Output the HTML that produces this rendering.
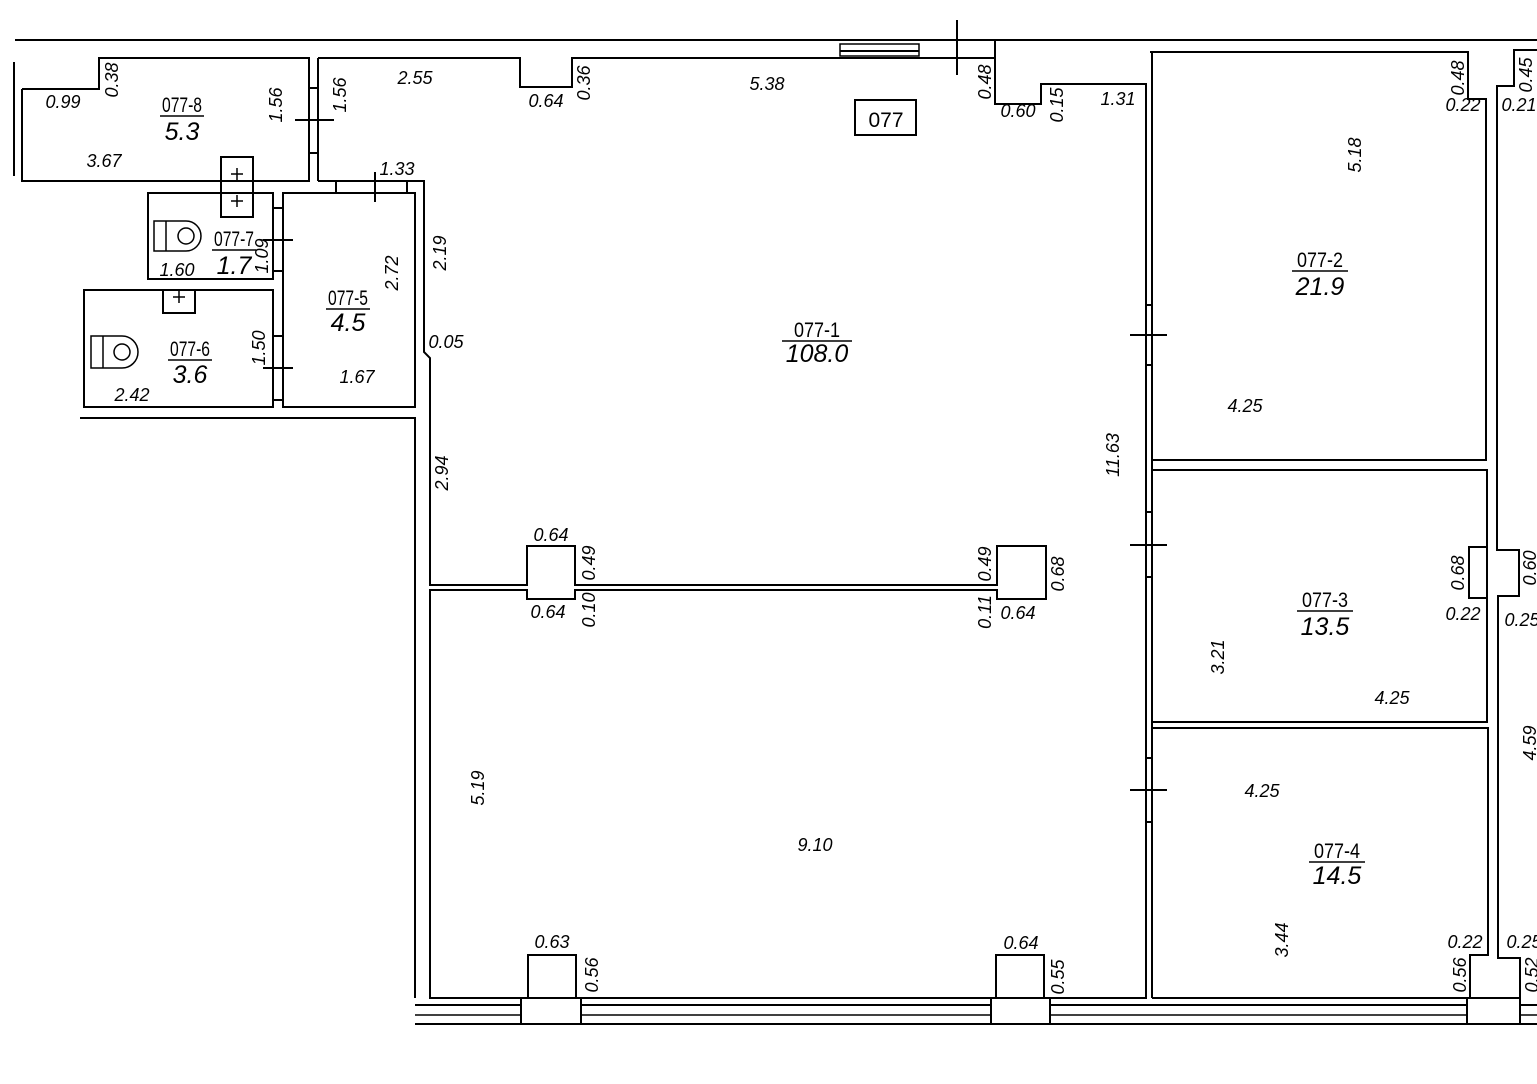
<!DOCTYPE html>
<html><head><meta charset="utf-8">
<style>
html,body{margin:0;padding:0;background:#fff;}
svg{display:block;}
text{font-family:"Liberation Sans",Arial,sans-serif;fill:#000;}
.d{font-size:18px;font-style:italic;}
.id{font-size:21px;}
.ar{font-size:25px;font-style:italic;}
</style></head><body>
<svg width="1537" height="1084" viewBox="0 0 1537 1084" xmlns="http://www.w3.org/2000/svg">
<g fill="none" stroke="#000" stroke-width="2">
<line x1="15" y1="40" x2="1537" y2="40"/>
<line x1="840" y1="58" x2="995" y2="58"/>
<rect x="840" y="44" width="79" height="12" stroke-width="1.5"/>
<line x1="840" y1="51" x2="919" y2="51"/>
<line x1="957" y1="20" x2="957" y2="75"/>
<line x1="14" y1="62" x2="14" y2="176"/>
<polyline points="22,89 99,89 99,58 309,58 309,181 22,181 22,89"/>
<line x1="309" y1="88" x2="318" y2="88"/><line x1="309" y1="153" x2="318" y2="153"/>
<line x1="295" y1="120" x2="334" y2="120"/>
<polyline points="318,58 520,58 520,87 572,87 572,58 840,58"/>
<line x1="318" y1="58" x2="318" y2="181"/>
<polyline points="318,181 424,181 424,352 430,358 430,585 527,585 527,546 575,546 575,585 997,585 997,546 1046,546 1046,599 997,599 997,590 575,590 575,599 527,599 527,590 430,590 430,998 528,998 528,955 576,955 576,998 996,998 996,955 1044,955 1044,998 1146,998 1146,84 1041,84 1041,104 995,104 995,40"/>
<line x1="336" y1="181" x2="336" y2="193"/><line x1="407" y1="181" x2="407" y2="193"/>
<line x1="375" y1="172" x2="375" y2="202"/>
<rect x="148" y="193" width="125" height="86"/>
<rect x="221" y="157" width="32" height="60"/>
<line x1="221" y1="181" x2="253" y2="181"/>
<g stroke-width="1.5">
<line x1="231" y1="174" x2="243" y2="174"/><line x1="237" y1="168" x2="237" y2="180"/>
<line x1="231" y1="201" x2="243" y2="201"/><line x1="237" y1="195" x2="237" y2="207"/>
<line x1="173" y1="297" x2="185" y2="297"/><line x1="179" y1="291" x2="179" y2="303"/>
</g>
<line x1="273" y1="208" x2="283" y2="208"/><line x1="273" y1="271" x2="283" y2="271"/>
<line x1="263" y1="240" x2="293" y2="240"/>
<rect x="283" y="193" width="132" height="214"/>
<rect x="84" y="290" width="189" height="117"/>
<rect x="163" y="290" width="32" height="23"/>
<line x1="273" y1="336" x2="283" y2="336"/><line x1="273" y1="400" x2="283" y2="400"/>
<line x1="263" y1="368" x2="293" y2="368"/>
<path d="M154,221 H186 A15,15 0 0 1 186,251 H154 Z M166,221 V251" stroke-width="1.5"/>
<circle cx="186" cy="236" r="8" stroke-width="1.5"/>
<path d="M91,336 H122 A16,16 0 0 1 122,368 H91 Z M103,336 V368" stroke-width="1.5"/>
<circle cx="122" cy="352" r="8" stroke-width="1.5"/>
<polyline points="80,418 415,418 415,998"/>
<line x1="415" y1="1005" x2="1537" y2="1005"/>
<line x1="415" y1="1015" x2="1537" y2="1015" stroke-width="1.5"/>
<line x1="415" y1="1024" x2="1537" y2="1024"/>
<rect x="521" y="998" width="60" height="26" fill="#fff"/>
<rect x="991" y="998" width="59" height="26" fill="#fff"/>
<rect x="1467" y="998" width="53" height="26" fill="#fff"/>
<line x1="1152" y1="52" x2="1152" y2="998"/>
<polyline points="1150,52 1468,52 1468,99 1486,99 1486,460 1152,460"/>
<rect x="1152" y="470" width="335" height="252"/>
<polyline points="1487,470 1487,547 1469,547 1469,598 1487,598"/>
<polyline points="1152,728 1488,728 1488,955 1470,955 1470,998 1152,998"/>
<polyline points="1537,50 1514,50 1514,86 1497,86 1497,550 1519,550 1519,596 1498,596 1498,958 1520,958 1520,998"/>
<line x1="1146" y1="305" x2="1152" y2="305"/><line x1="1146" y1="365" x2="1152" y2="365"/>
<line x1="1130" y1="335" x2="1167" y2="335"/>
<line x1="1146" y1="512" x2="1152" y2="512"/><line x1="1146" y1="577" x2="1152" y2="577"/>
<line x1="1130" y1="545" x2="1167" y2="545"/>
<line x1="1146" y1="758" x2="1152" y2="758"/><line x1="1146" y1="822" x2="1152" y2="822"/>
<line x1="1130" y1="790" x2="1167" y2="790"/>
<rect x="855" y="100" width="61" height="35"/>
<line x1="160" y1="116" x2="204" y2="116" stroke-width="1.5"/>
<line x1="212" y1="250" x2="256" y2="250" stroke-width="1.5"/>
<line x1="326" y1="309" x2="370" y2="309" stroke-width="1.5"/>
<line x1="168" y1="360" x2="212" y2="360" stroke-width="1.5"/>
<line x1="782" y1="341" x2="852" y2="341" stroke-width="1.5"/>
<line x1="1292" y1="271" x2="1348" y2="271" stroke-width="1.5"/>
<line x1="1297" y1="611" x2="1353" y2="611" stroke-width="1.5"/>
<line x1="1309" y1="862" x2="1365" y2="862" stroke-width="1.5"/>
</g>
<g text-anchor="middle">
<text class="id" x="886" y="127" font-size="23">077</text>
<text class="id" x="182" y="112" textLength="40" lengthAdjust="spacingAndGlyphs">077-8</text><text class="ar" x="182" y="140">5.3</text>
<text class="id" x="234" y="246" textLength="40" lengthAdjust="spacingAndGlyphs">077-7</text><text class="ar" x="234" y="274">1.7</text>
<text class="id" x="348" y="305" textLength="40" lengthAdjust="spacingAndGlyphs">077-5</text><text class="ar" x="348" y="331">4.5</text>
<text class="id" x="190" y="356" textLength="40" lengthAdjust="spacingAndGlyphs">077-6</text><text class="ar" x="190" y="383">3.6</text>
<text class="id" x="817" y="337" textLength="46" lengthAdjust="spacingAndGlyphs">077-1</text><text class="ar" x="817" y="362">108.0</text>
<text class="id" x="1320" y="267" textLength="46" lengthAdjust="spacingAndGlyphs">077-2</text><text class="ar" x="1320" y="295">21.9</text>
<text class="id" x="1325" y="607" textLength="46" lengthAdjust="spacingAndGlyphs">077-3</text><text class="ar" x="1325" y="635">13.5</text>
<text class="id" x="1337" y="858" textLength="46" lengthAdjust="spacingAndGlyphs">077-4</text><text class="ar" x="1337" y="884">14.5</text>
<text class="d" x="63" y="108">0.99</text>
<text class="d" x="104" y="167">3.67</text>
<text class="d" x="415" y="84">2.55</text>
<text class="d" x="546" y="107">0.64</text>
<text class="d" x="767" y="90">5.38</text>
<text class="d" x="1018" y="117">0.60</text>
<text class="d" x="1118" y="105">1.31</text>
<text class="d" x="1463" y="111">0.22</text>
<text class="d" x="1519" y="111">0.21</text>
<text class="d" x="1245" y="412">4.25</text>
<text class="d" x="397" y="175">1.33</text>
<text class="d" x="177" y="276">1.60</text>
<text class="d" x="357" y="383">1.67</text>
<text class="d" x="446" y="348">0.05</text>
<text class="d" x="132" y="401">2.42</text>
<text class="d" x="551" y="541">0.64</text>
<text class="d" x="548" y="618">0.64</text>
<text class="d" x="1018" y="619">0.64</text>
<text class="d" x="1463" y="620">0.22</text>
<text class="d" x="1522" y="626">0.25</text>
<text class="d" x="1392" y="704">4.25</text>
<text class="d" x="1262" y="797">4.25</text>
<text class="d" x="815" y="851">9.10</text>
<text class="d" x="1465" y="948">0.22</text>
<text class="d" x="1524" y="948">0.25</text>
<text class="d" x="552" y="948">0.63</text>
<text class="d" x="1021" y="949">0.64</text>
</g>
<g text-anchor="middle">
<text class="d" transform="translate(118,80) rotate(-90)">0.38</text>
<text class="d" transform="translate(282,105) rotate(-90)">1.56</text>
<text class="d" transform="translate(346,95) rotate(-90)">1.56</text>
<text class="d" transform="translate(590,83) rotate(-90)">0.36</text>
<text class="d" transform="translate(991,82) rotate(-90)">0.48</text>
<text class="d" transform="translate(1063,105) rotate(-90)">0.15</text>
<text class="d" transform="translate(1464,78) rotate(-90)">0.48</text>
<text class="d" transform="translate(1532,75) rotate(-90)">0.45</text>
<text class="d" transform="translate(1361,155) rotate(-90)">5.18</text>
<text class="d" transform="translate(1119,455) rotate(-90)">11.63</text>
<text class="d" transform="translate(446,253) rotate(-90)">2.19</text>
<text class="d" transform="translate(268,256) rotate(-90)">1.09</text>
<text class="d" transform="translate(398,273) rotate(-90)">2.72</text>
<text class="d" transform="translate(265,348) rotate(-90)">1.50</text>
<text class="d" transform="translate(448,473) rotate(-90)">2.94</text>
<text class="d" transform="translate(595,563) rotate(-90)">0.49</text>
<text class="d" transform="translate(595,610) rotate(-90)">0.10</text>
<text class="d" transform="translate(991,564) rotate(-90)">0.49</text>
<text class="d" transform="translate(1064,574) rotate(-90)">0.68</text>
<text class="d" transform="translate(991,612) rotate(-90)">0.11</text>
<text class="d" transform="translate(1464,573) rotate(-90)">0.68</text>
<text class="d" transform="translate(1536,568) rotate(-90)">0.60</text>
<text class="d" transform="translate(1224,657) rotate(-90)">3.21</text>
<text class="d" transform="translate(1536,743) rotate(-90)">4.59</text>
<text class="d" transform="translate(484,788) rotate(-90)">5.19</text>
<text class="d" transform="translate(1288,940) rotate(-90)">3.44</text>
<text class="d" transform="translate(1466,975) rotate(-90)">0.56</text>
<text class="d" transform="translate(1538,975) rotate(-90)">0.52</text>
<text class="d" transform="translate(598,975) rotate(-90)">0.56</text>
<text class="d" transform="translate(1064,977) rotate(-90)">0.55</text>
</g>
</svg>
</body></html>
